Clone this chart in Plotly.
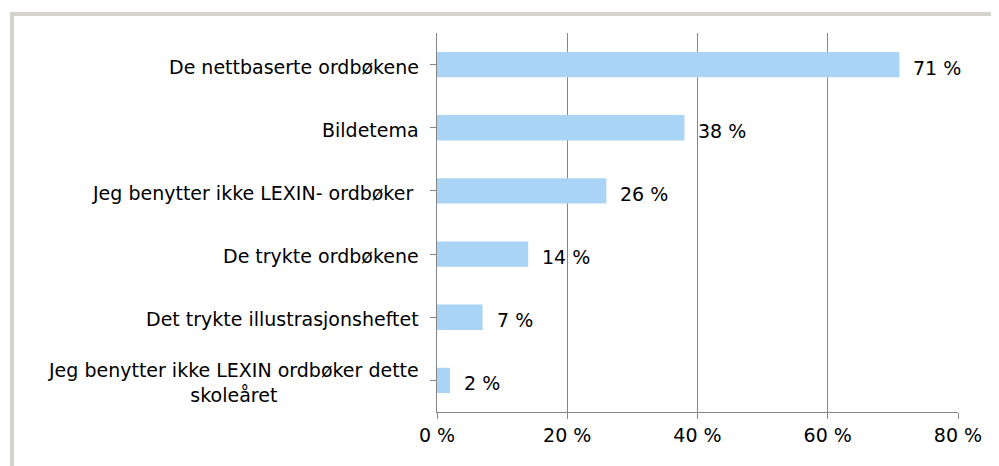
import plotly.graph_objects as go

categories = [
    "De nettbaserte ordbøkene",
    "Bildetema",
    "Jeg benytter ikke LEXIN- ordbøker ",
    "De trykte ordbøkene",
    "Det trykte illustrasjonsheftet",
    "Jeg benytter ikke LEXIN ordbøker dette<br>skoleåret",
]
values = [71, 38, 26, 14, 7, 2]
value_labels = ["71 %", "38 %", "26 %", "14 %", "7 %", "2 %"]
x_tickvals = [0, 20, 40, 60, 80]
x_ticktext = ["0 %", "20 %", "40 %", "60 %", "80 %"]

FONT = "DejaVu Sans"
FS = 19
GRID = "#868686"
BAR = "#A9D4F5"
FRAME = "#D4D4CC"

# page body adds an 8px offset
OFF = 8
W, H = 999 - OFF, 466 - OFF

fig = go.Figure()
fig.add_trace(go.Bar(
    x=values, y=list(range(len(categories))), orientation="h",
    marker=dict(color=BAR, line=dict(width=0)),
    width=0.4, hoverinfo="skip",
))

annotations = []
for i, (c, v, t) in enumerate(zip(categories, values, value_labels)):
    annotations.append(dict(
        x=0, xref="paper", y=i, yref="y", text=c, showarrow=False,
        xanchor="right", yanchor="middle", align="center", xshift=-16, yshift=-2,
        font=dict(family=FONT, size=FS, color="#000000"),
    ))
    annotations.append(dict(
        x=v, xref="x", y=i, yref="y", text=t, showarrow=False,
        xanchor="left", yanchor="middle", xshift=12, yshift=-3,
        font=dict(family=FONT, size=FS, color="#000000"),
    ))

# plot area in screen px: x 437..958, y 33..412
pl, pr, pt, pb = 437 - OFF, 958 - OFF, 33 - OFF, 412 - OFF
pw, ph = pr - pl, pb - pt
def px_x(p):
    return (p - OFF - pl) / pw
def px_y(p):
    return (pb - (p - OFF)) / ph

fig.update_layout(
    width=W, height=H,
    margin=dict(l=pl, r=W - pr, t=pt, b=H - pb),
    paper_bgcolor="white", plot_bgcolor="white",
    showlegend=False, annotations=annotations,
    font=dict(family=FONT, size=FS, color="#000000"),
    shapes=[dict(
        type="rect", xref="paper", yref="paper",
        x0=px_x(12), x1=px_x(1010), y0=px_y(475), y1=px_y(14),
        line=dict(color=FRAME, width=4), layer="below",
    )],
    xaxis=dict(
        range=[0, 80], tickvals=x_tickvals, ticktext=x_ticktext,
        showgrid=True, gridcolor=GRID, gridwidth=1,
        showline=True, linecolor=GRID, linewidth=1,
        ticks="outside", ticklen=6, tickcolor=GRID,
        zeroline=False, fixedrange=True,
        tickfont=dict(family=FONT, size=FS, color="#000000"),
    ),
    yaxis=dict(
        range=[len(categories) - 0.5, -0.5],
        tickvals=list(range(len(categories))),
        showticklabels=False, tickson="boundaries",
        showgrid=False, zeroline=False,
        showline=True, linecolor=GRID, linewidth=1,
        ticks="outside", ticklen=6, tickcolor=GRID, fixedrange=True,
    ),
)

fig.write_html("out.html", config={"displayModeBar": False})
